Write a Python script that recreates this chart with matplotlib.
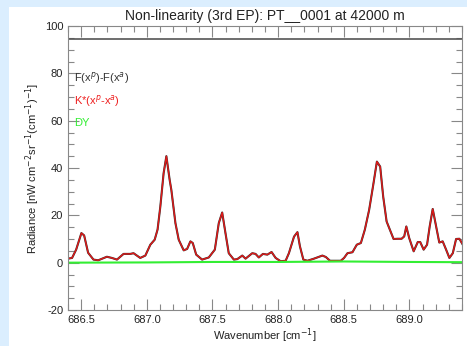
import matplotlib
matplotlib.use("Agg")
import matplotlib.pyplot as plt
from matplotlib.ticker import MultipleLocator, FormatStrFormatter
from matplotlib.patches import Rectangle

plt.rcParams['font.family'] = ['Liberation Sans', 'DejaVu Sans']
plt.rcParams['axes.unicode_minus'] = False

title = "Non-linearity (3rd EP): PT__0001 at 42000 m"
xlabel = "Wavenumber [cm$^{-1}$]"
ylabel = "Radiance [nW cm$^{-2}$sr$^{-1}$(cm$^{-1}$)$^{-1}$]"
legend_labels = ["F(x$^{p}$)-F(x$^{a}$)", "K*(x$^{p}$-x$^{a}$)", "DY"]

wavenumber = [
    686.401, 686.431, 686.462, 686.502, 686.523, 686.553, 686.594, 686.630, 686.696, 686.734,
    686.773, 686.823, 686.874, 686.899, 686.950, 686.989, 687.027, 687.060, 687.082, 687.103,
    687.128, 687.149, 687.174, 687.187, 687.218, 687.243, 687.281, 687.307, 687.332, 687.350,
    687.376, 687.421, 687.472, 687.518, 687.548, 687.574, 687.599, 687.624, 687.663, 687.689,
    687.727, 687.752, 687.803, 687.828, 687.853, 687.884, 687.918, 687.950, 687.981, 688.019,
    688.057, 688.082, 688.121, 688.147, 688.166, 688.192, 688.223, 688.273, 688.337, 688.363,
    688.395, 688.477, 688.502, 688.528, 688.566, 688.599, 688.630, 688.660, 688.693, 688.724,
    688.752, 688.777, 688.800, 688.826, 688.846, 688.879, 688.910, 688.940, 688.960, 688.976,
    688.998, 689.032, 689.063, 689.082, 689.108, 689.134, 689.154, 689.177, 689.202, 689.227,
    689.253, 689.279, 689.304, 689.330, 689.355, 689.380, 689.406,
]
radiance_diff = [
    1.7, 2.0, 5.5, 12.5, 11.5, 4.2, 1.3, 1.0, 2.5, 2.0,
    1.3, 3.7, 3.7, 4.0, 2.0, 3.0, 7.6, 9.7, 14.0, 23.7,
    37.8, 45.0, 35.0, 30.7, 16.7, 9.7, 5.2, 5.8, 9.0, 8.3,
    3.4, 1.3, 2.2, 5.5, 16.7, 21.2, 12.5, 4.0, 1.3, 1.5,
    3.0, 1.7, 4.0, 3.7, 2.2, 3.7, 3.4, 4.5, 2.0, 0.6,
    0.8, 4.0, 11.0, 12.9, 6.9, 1.3, 0.8, 1.7, 3.0, 2.4,
    0.8, 0.8, 2.0, 4.0, 4.4, 7.6, 8.3, 13.9, 22.3, 32.8,
    42.7, 40.6, 27.9, 17.4, 14.6, 10.0, 10.1, 10.1, 11.1, 15.3,
    10.4, 4.8, 8.7, 8.7, 5.5, 7.6, 15.3, 22.7, 15.6, 8.5,
    9.0, 5.5, 2.0, 4.0, 10.0, 10.1, 7.6,
]
dy_wavenumber = [686.40, 687.0, 687.5, 688.0, 688.5, 689.0, 689.41]
dy_values = [0.0, 0.1, 0.3, 0.3, 0.5, 0.3, 0.2]
ref_level = 94.7

fig = plt.figure(figsize=(4.67, 3.46), dpi=100)
fig.patch.set_facecolor('#dbeefe')
fig.patches.append(Rectangle((9 / 467, 0), 1, 1 - 7 / 346, transform=fig.transFigure,
                             facecolor='white', edgecolor='none', zorder=-10))

ax = fig.add_axes([68 / 467, 1 - 310 / 346, (462 - 68) / 467, (310 - 26) / 346])
ax.set_zorder(5)
ax.set_facecolor('white')

ax.axhline(ref_level, color='#555555', lw=1.2)
ax.plot(wavenumber, radiance_diff, color='#333333', lw=1.5)
ax.plot(wavenumber, radiance_diff, color='#e01818', lw=1.0)
ax.plot(dy_wavenumber, dy_values, color='#33ee33', lw=1.5)

ax.set_xlim(686.40, 689.40)
ax.set_ylim(-20, 100)
ax.xaxis.set_major_locator(MultipleLocator(0.5))
ax.xaxis.set_minor_locator(MultipleLocator(0.1))
ax.yaxis.set_major_locator(MultipleLocator(20))
ax.yaxis.set_minor_locator(MultipleLocator(5))
ax.xaxis.set_major_formatter(FormatStrFormatter('%.1f'))
ax.tick_params(which='both', direction='in', top=True, right=True, color='#888888',
               labelsize=8, labelcolor='#222222')
ax.tick_params(which='major', length=8, width=0.8)
ax.tick_params(which='minor', length=4, width=0.8)
for s in ax.spines.values():
    s.set_color('#888888')
    s.set_linewidth(0.8)

ax.set_title(title, fontsize=10, color='#222222', pad=4)
ax.set_xlabel(xlabel, fontsize=8, color='#222222', labelpad=1)
ax.set_ylabel(ylabel, fontsize=8, color='#222222', labelpad=2)

colors = ['#333333', '#ee2020', '#33ee33']
ys = [77.9, 68.2, 59.2]
for lab, c, yv in zip(legend_labels, colors, ys):
    ax.text(686.445, yv, lab, color=c, fontsize=8, va='center', ha='left')

fig.savefig('out.png', dpi=100)
